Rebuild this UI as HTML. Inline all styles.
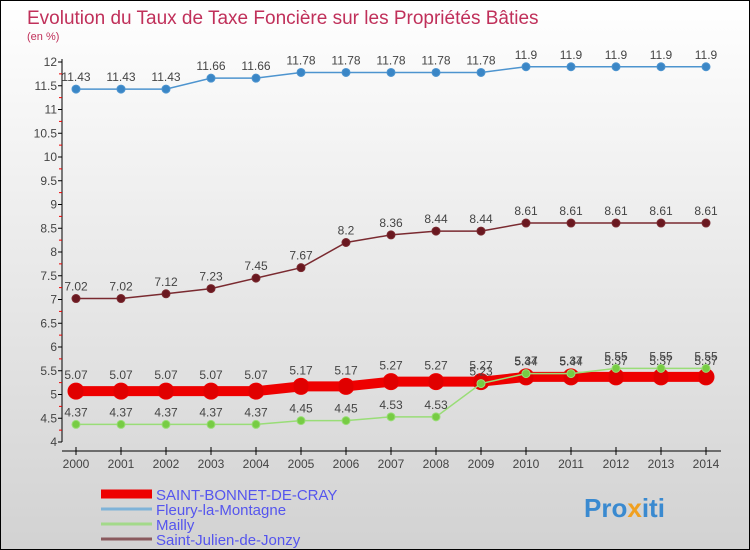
<!DOCTYPE html>
<html><head><meta charset="utf-8"><style>
body{margin:0}
#c{width:750px;height:550px;position:relative;overflow:hidden;box-sizing:border-box;border:1px solid #000;background:linear-gradient(#fff,#d2d2d2);font-family:"Liberation Sans",sans-serif}
</style></head><body>
<div id="c">
<svg id="s" width="750" height="550" style="position:absolute;left:0;top:0">
<text x="26" y="23" font-size="19" fill="#c0305a">Evolution du Taux de Taxe Foncière sur les Propriétés Bâties</text>
<text x="26" y="39" font-size="11" fill="#c0305a">(en %)</text>
<g id="ax"></g><g id="ser"></g><g id="lg"></g>
<text x="583" y="516" font-size="26" font-weight="bold" fill="#3a8ad0">Pro<tspan fill="#f0a020">x</tspan>iti</text>
</svg>
</div>
<script>
const years=[2000,2001,2002,2003,2004,2005,2006,2007,2008,2009,2010,2011,2012,2013,2014];
const saintBonnet=[5.07,5.07,5.07,5.07,5.07,5.17,5.17,5.27,5.27,5.27,5.37,5.37,5.37,5.37,5.37];
const fleury=[11.43,11.43,11.43,11.66,11.66,11.78,11.78,11.78,11.78,11.78,11.9,11.9,11.9,11.9,11.9];
const mailly=[4.37,4.37,4.37,4.37,4.37,4.45,4.45,4.53,4.53,5.23,5.44,5.44,5.55,5.55,5.55];
const saintJulien=[7.02,7.02,7.12,7.23,7.45,7.67,8.2,8.36,8.44,8.44,8.61,8.61,8.61,8.61,8.61];
const yTicks=[4,4.5,5,5.5,6,6.5,7,7.5,8,8.5,9,9.5,10,10.5,11,11.5,12];
const names=["SAINT-BONNET-DE-CRAY","Fleury-la-Montagne","Mailly","Saint-Julien-de-Jonzy"];
const NS="http://www.w3.org/2000/svg";
const X=i=>75+i*45, Y=v=>61+(12-v)*47.5;
function mk(p,t,a){const e=document.createElementNS(NS,t);for(const k in a)e.setAttribute(k,a[k]);p.appendChild(e);return e;}
const ax=document.getElementById('ax');
let l=mk(ax,'line',{x1:61,y1:Y(12)-3,x2:61,y2:Y(4),stroke:'#000'});


yTicks.forEach(v=>{
 mk(ax,'line',{x1:57,x2:61,y1:Y(v),y2:Y(v),stroke:'#000'});
 if(v<12)mk(ax,'line',{x1:58,x2:61,y1:Y(v+0.25),y2:Y(v+0.25),stroke:'#e00'});
 const t=mk(ax,'text',{x:56,y:Y(v)+4,'font-size':12,fill:'#444','text-anchor':'end'});
 t.textContent=v;
 
 
});
l=mk(ax,'line',{x1:61,y1:450,x2:720,y2:450,stroke:'#000'});


years.forEach((y,i)=>{
 mk(ax,'line',{x1:X(i),x2:X(i),y1:446,y2:454,stroke:'#000'});
 const t=mk(ax,'text',{x:X(i),y:467,'font-size':12,fill:'#444','text-anchor':'middle'});
 t.textContent=y;
 
 
});
const ser=document.getElementById('ser');
function draw(vals,col,w,r,fill,name,dy){
 const g=mk(ser,'g',{});
 
 
 mk(g,'polyline',{points:vals.map((v,i)=>X(i)+','+Y(v)).join(' '),fill:'none',stroke:col,'stroke-width':w});
 vals.forEach((v,i)=>{
  const c=mk(g,'circle',{cx:X(i),cy:Y(v),r:r,fill:fill,stroke:col,'stroke-width':1});
  
  
  const t=mk(g,'text',{x:X(i),y:Y(v)+dy,'font-size':12,fill:'#444','text-anchor':'middle'});
  t.textContent=v;
  
  
 });
}
draw(fleury,'#4d94cf',1.5,4,'#3a86c6','series-fleury',-8);
draw(saintJulien,'#7a2a30',1.5,4,'#6a1820','series-saint-julien',-8);
draw(saintBonnet,'#ee0000',10,8,'#e00000','series-saint-bonnet',-12);
draw(mailly,'#99dd77',1.5,4,'#77cc44','series-mailly',-8);
const lg=document.getElementById('lg');
const cols=['#ee0000','#7fb3d8','#a3d98a','#8a5a5e'],ws=[9,3,3,3];
names.forEach((n,i)=>{
 const y=493+i*15;
 const g=mk(lg,'g',{});
 
 
 mk(g,'line',{x1:100,x2:151,y1:y,y2:y,stroke:cols[i],'stroke-width':ws[i]});
 const t=mk(g,'text',{x:155,y:y+6,'font-size':15,fill:'#5555ee'});
 t.textContent=n;
});
</script>
</body></html>
